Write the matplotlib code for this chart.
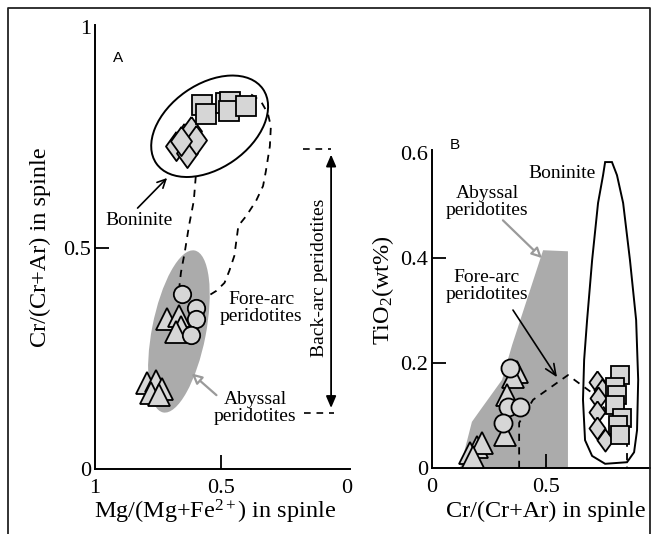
"""
Spinel composition diagrams: (A) Cr# vs Mg# and (B) TiO2 vs Cr#.
Output: out.png
"""
import matplotlib
matplotlib.use("Agg")
import matplotlib.pyplot as plt
from matplotlib.patches import Ellipse, Polygon
from matplotlib.transforms import ScaledTranslation
from matplotlib.lines import Line2D

plt.rcParams["font.family"] = ["Liberation Serif", "DejaVu Serif"]
plt.rcParams["mathtext.fontset"] = "custom"
plt.rcParams["mathtext.rm"] = "Liberation Serif"
plt.rcParams["mathtext.it"] = "Liberation Serif:italic"
plt.rcParams["mathtext.bf"] = "Liberation Serif:bold"

MARK_FILL = "#d6d6d6"
FIELD_GRAY = "#ababab"
ARROW_GRAY = "#9a9a9a"
SANS = ["Liberation Sans", "DejaVu Sans"]

# ---- panel A : Mg# (x, reversed) vs Cr# (y) ----
a_sq_x = [0.576, 0.561, 0.482, 0.463, 0.467, 0.400]
a_sq_y = [0.822, 0.802, 0.827, 0.831, 0.809, 0.820]
a_dia_x = [0.678, 0.647, 0.620, 0.635, 0.600, 0.659]
a_dia_y = [0.730, 0.748, 0.764, 0.714, 0.745, 0.741]
a_tri_x = [0.714, 0.667, 0.659, 0.678, 0.792, 0.757, 0.733, 0.776, 0.745]
a_tri_y = [0.340, 0.347, 0.320, 0.309, 0.194, 0.200, 0.182, 0.171, 0.167]
a_cir_x = [0.655, 0.600, 0.600, 0.620]
a_cir_y = [0.396, 0.365, 0.340, 0.302]

# dashed trends linking the boninite and abyssal fields
a_dash_left_x = [0.600, 0.608, 0.627, 0.643, 0.659, 0.667]
a_dash_left_y = [0.662, 0.606, 0.550, 0.493, 0.444, 0.403]
a_dash_right_x = [0.380, 0.341, 0.314, 0.302, 0.306, 0.322, 0.333, 0.361,
                  0.400, 0.431, 0.439, 0.447, 0.467, 0.486, 0.518, 0.549]
a_dash_right_y = [0.847, 0.831, 0.804, 0.775, 0.730, 0.673, 0.640, 0.606,
                  0.572, 0.550, 0.516, 0.482, 0.448, 0.421, 0.403, 0.392]

# back-arc range (Cr#)
backarc_x = 0.063
backarc_lo, backarc_hi = 0.126, 0.723

# ---- panel B : Cr# (x) vs TiO2 (y) ----
b_tri_x = [0.373, 0.355, 0.329, 0.320, 0.197, 0.219, 0.167, 0.180]
b_tri_y = [0.183, 0.173, 0.139, 0.063, 0.040, 0.048, 0.029, 0.021]
b_cir_x = [0.342, 0.333, 0.386, 0.311]
b_cir_y = [0.190, 0.116, 0.116, 0.086]
b_dia_x = [0.724, 0.746, 0.728, 0.724, 0.724, 0.759]
b_dia_y = [0.164, 0.149, 0.133, 0.107, 0.076, 0.053]
b_sq_x = [0.825, 0.803, 0.811, 0.803, 0.833, 0.816, 0.825]
b_sq_y = [0.177, 0.154, 0.139, 0.120, 0.095, 0.082, 0.063]

abyssal_b_x = [0.487, 0.596, 0.596, 0.123, 0.175, 0.211, 0.307, 0.351]
abyssal_b_y = [0.415, 0.413, 0.000, 0.000, 0.088, 0.110, 0.168, 0.234]

boninite_b_x = [0.759, 0.789, 0.811, 0.838, 0.868, 0.895, 0.904, 0.899, 0.886,
                0.855, 0.759, 0.702, 0.671, 0.662, 0.667, 0.680, 0.702, 0.728, 0.750]
boninite_b_y = [0.583, 0.583, 0.558, 0.505, 0.396, 0.282, 0.168, 0.072, 0.030,
                0.011, 0.008, 0.023, 0.053, 0.130, 0.206, 0.282, 0.396, 0.505, 0.558]

b_dash_x = [0.382, 0.382, 0.443, 0.596, 0.715, 0.855, 0.855]
b_dash_y = [0.000, 0.086, 0.130, 0.177, 0.139, 0.053, 0.000]

DIAMOND = [(0, 1), (0.72, 0), (0, -1), (-0.72, 0), (0, 1)]


def px_ellipse(fig, ax, cx, cy, w_px, h_px, angle, **kw):
    # ellipse sized in pixels, centred on a data point
    tr = fig.dpi_scale_trans + ScaledTranslation(cx, cy, ax.transData)
    e = Ellipse((0, 0), w_px / fig.dpi, h_px / fig.dpi, angle=angle,
                transform=tr, **kw)
    ax.add_patch(e)


def pts(ax, x, y, marker, ms):
    ax.plot(x, y, ls="none", marker=marker, ms=ms, mfc=MARK_FILL,
            mec="black", mew=1.3, zorder=5)


def arrow(ax, tail, tip, style, **kw):
    ax.annotate("", xy=tip, xytext=tail,
                arrowprops=dict(arrowstyle=style, shrinkA=0, shrinkB=0, **kw))


def style_axes(ax, xticks, xlabels, yticks, ylabels, xmark, ymark):
    for s in ("top", "right"):
        ax.spines[s].set_visible(False)
    for s in ("left", "bottom"):
        ax.spines[s].set_linewidth(1.4)
    ax.set_xticks(xticks)
    ax.set_xticklabels(xlabels)
    ax.set_yticks(yticks)
    ax.set_yticklabels(ylabels)
    ax.tick_params(direction="in", length=10, width=1.3, labelsize=16)
    ax.tick_params(axis="x", pad=7)
    ax.tick_params(axis="y", pad=3)
    for t, loc in zip(ax.xaxis.get_major_ticks(), xticks):
        t.tick1line.set_visible(loc in xmark)
    for t, loc in zip(ax.yaxis.get_major_ticks(), yticks):
        t.tick1line.set_visible(loc in ymark)


fig = plt.figure(figsize=(6.52, 5.34), dpi=100)

# ---------------- panel A ----------------
ax = fig.add_axes([0.1457, 0.1217, 0.3911, 0.8315])
ax.set_xlim(1, -0.012)
ax.set_ylim(0, 1.004)
style_axes(ax, [1, 0.5, 0], ["1", "0.5", "0"], [0, 0.5, 1], ["0", "0.5", "1"],
           [0.5], [0.5])

px_ellipse(fig, ax, 0.667, 0.311, 54, 165, -11, fc=FIELD_GRAY, ec="none", zorder=1)
px_ellipse(fig, ax, 0.545, 0.775, 130, 84, 35, fc="none", ec="black", lw=1.4, zorder=2)

ax.plot(a_dash_left_x, a_dash_left_y, color="black", lw=1.3, ls=(0, (4, 3.5)), zorder=3)
ax.plot(a_dash_right_x, a_dash_right_y, color="black", lw=1.3, ls=(0, (4, 3.5)), zorder=3)

pts(ax, a_tri_x, a_tri_y, "^", 15.5)
pts(ax, a_cir_x, a_cir_y, "o", 12.5)
pts(ax, a_dia_x, a_dia_y, DIAMOND, 21)
pts(ax, a_sq_x, a_sq_y, "s", 14.5)

# back-arc range
arrow(ax, (backarc_x, backarc_lo + 0.012), (backarc_x, backarc_hi - 0.012),
      "<|-|>,head_length=0.7,head_width=0.3", color="black", lw=1.3)
ax.plot([0.176, 0.062], [backarc_hi, backarc_hi], color="black", lw=1.2, ls=(0, (4, 3.5)))
ax.plot([0.169, 0.051], [backarc_lo, backarc_lo], color="black", lw=1.2, ls=(0, (4, 3.5)))
ax.text(0.110, 0.432, "Back-arc peridotites", rotation=90, ha="center", va="center",
        fontsize=14)

ax.text(0.910, 0.930, "A", family=SANS, fontsize=11, ha="center", va="center")
ax.text(0.824, 0.563, "Boninite", fontsize=14, ha="center", va="center")
arrow(ax, (0.831, 0.590), (0.714, 0.658), "->,head_length=0.6,head_width=0.3",
      color="black", lw=1.2)
ax.text(0.341, 0.363, "Fore-arc\nperidotites", fontsize=14, ha="center", va="center",
        linespacing=1.0)
ax.text(0.365, 0.137, "Abyssal\nperidotites", fontsize=14, ha="center", va="center",
        linespacing=1.0)
arrow(ax, (0.518, 0.167), (0.616, 0.216), "-|>,head_length=0.6,head_width=0.3",
      ec=ARROW_GRAY, fc="white", lw=1.6)

ax.text(0.47, -0.097, r"Mg/(Mg+Fe$^{2+}$) in spinle", transform=ax.transAxes,
        ha="center", va="center", fontsize=17.5)
ax.text(-0.216, 0.5, "Cr/(Cr+Ar) in spinle", transform=ax.transAxes, rotation=90,
        ha="center", va="center", fontsize=17.5)

# ---------------- panel B ----------------
bx = fig.add_axes([0.6626, 0.1236, 0.3344, 0.5955])
bx.set_xlim(0, 0.956)
bx.set_ylim(0, 0.606)
style_axes(bx, [0, 0.5], ["0", "0.5"], [0, 0.2, 0.4, 0.6], ["0", "0.2", "0.4", "0.6"],
           [0.5], [0.2, 0.4])

bx.add_patch(Polygon(list(zip(abyssal_b_x, abyssal_b_y)), closed=True,
                     fc=FIELD_GRAY, ec="none", zorder=1))
bx.add_patch(Polygon(list(zip(boninite_b_x, boninite_b_y)), closed=True,
                     fc="none", ec="black", lw=1.4, zorder=2))
bx.plot(b_dash_x, b_dash_y, color="black", lw=1.3, ls=(0, (4, 3.5)), zorder=3)

pts(bx, b_tri_x, b_tri_y, "^", 15.5)
pts(bx, b_cir_x, b_cir_y, "o", 13)
pts(bx, b_dia_x, b_dia_y, DIAMOND, 16)
pts(bx, b_sq_x, b_sq_y, "s", 12.5)

bx.text(0.101, 0.615, "B", family=SANS, fontsize=11, ha="center", va="center")
bx.text(0.570, 0.562, "Boninite", fontsize=14, ha="center", va="center")
bx.text(0.241, 0.507, "Abyssal\nperidotites", fontsize=14, ha="center", va="center",
        linespacing=1.0)
arrow(bx, (0.311, 0.472), (0.482, 0.400), "-|>,head_length=0.6,head_width=0.3",
      ec=ARROW_GRAY, fc="white", lw=1.6)
bx.text(0.241, 0.347, "Fore-arc\nperidotites", fontsize=14, ha="center", va="center",
        linespacing=1.0)
arrow(bx, (0.355, 0.301), (0.548, 0.173), "->,head_length=0.8,head_width=0.35",
      color="black", lw=1.2)

bx.text(0.523, -0.138, "Cr/(Cr+Ar) in spinle", transform=bx.transAxes,
        ha="center", va="center", fontsize=17.5)
bx.text(-0.225, 0.56, r"TiO$_2$(wt%)", transform=bx.transAxes, rotation=90,
        ha="center", va="center", fontsize=17.5)

# outer frame (open at the bottom)
W, H = 652, 534
fig.add_artist(Line2D([8 / W, 8 / W, 650 / W, 650 / W], [0, 1 - 8 / H, 1 - 8 / H, 0],
                      transform=fig.transFigure, color="#222222", lw=1.3))

fig.savefig("out.png", dpi=100, facecolor="white")
